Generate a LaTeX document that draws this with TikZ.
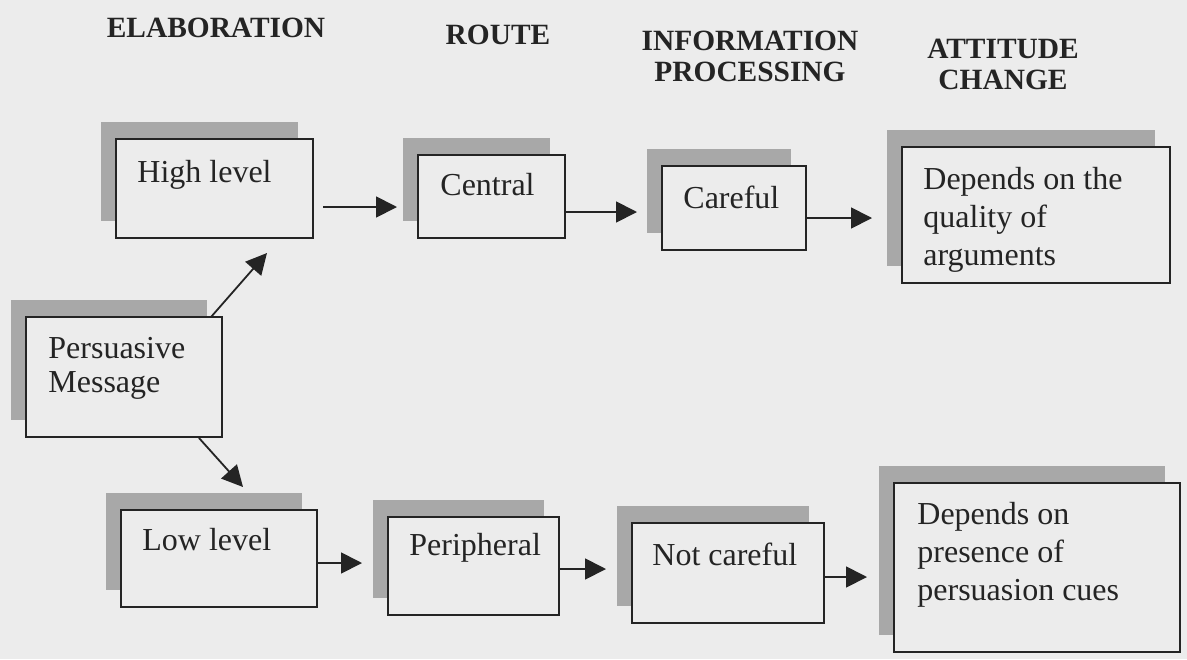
\documentclass[tikz,border=0pt]{standalone}
\usepackage{fontspec}
\setmainfont{Liberation Serif}
\usetikzlibrary{arrows.meta,shadows}
\definecolor{paper}{RGB}{236,236,236}
\definecolor{shade}{RGB}{168,168,168}
\definecolor{ink}{RGB}{36,36,36}
\begin{document}
\begin{tikzpicture}[x=0.5pt,y=-0.5pt,
  box/.style={draw=ink, line width=1pt, fill=paper, rectangle, inner sep=0pt,
    general shadow={shadow xshift=-7.5pt, shadow yshift=8.5pt, fill=shade}},
  lbl/.style={anchor=base west, inner sep=0pt, align=left, text=ink,
    font=\fontsize{16pt}{18.8pt}\selectfont},
  head/.style={anchor=base, inner sep=0pt, align=center, text=ink,
    font=\bfseries\fontsize{14.7pt}{15.2pt}\selectfont},
  arr/.style={draw=ink, line width=0.9pt, -{Triangle[length=10.5pt,width=10.5pt]}}]

% page
\fill[paper] (0,0) rectangle (1187,659);
\useasboundingbox (0,0) rectangle (1187,659);

% column headings (multi-line nodes are placed by their last baseline)
\node[head] (hElab)  at (216,37)  {ELABORATION};
\node[head] (hRoute) at (498,44)  {ROUTE};
\node[head] (hInfo)  at (750,81)  {INFORMATION\\PROCESSING};
\node[head] (hAtt)   at (1003,89) {ATTITUDE\\CHANGE};

% boxes
\node[box, minimum width=98.5pt, minimum height=49.5pt] (high)    at (214.5,188.5) {};
\node[box, minimum width=98pt,   minimum height=60pt]   (pers)    at (124,377)     {};
\node[box, minimum width=73.5pt, minimum height=41.5pt] (central) at (491.5,196.5) {};
\node[box, minimum width=72pt,   minimum height=42pt]   (careful) at (734,208)     {};
\node[box, minimum width=134pt,  minimum height=68pt]   (attA)    at (1036,215)    {};
\node[box, minimum width=98pt,   minimum height=48.5pt] (low)     at (219,558.5)   {};
\node[box, minimum width=85.5pt, minimum height=49pt]   (periph)  at (473.5,566)   {};
\node[box, minimum width=96pt,   minimum height=50pt]   (notc)    at (728,573)     {};
\node[box, minimum width=143pt,  minimum height=84.5pt] (attB)    at (1037,567.5)  {};

% box texts
\node[lbl] (tHigh)    at (137,182) {High level};
\node[lbl, font=\fontsize{16pt}{17pt}\selectfont] (tPers) at (48,392) {Persuasive\\Message};
\node[lbl] (tCentral) at (440,195) {Central};
\node[lbl] (tCareful) at (683,208) {Careful};
\node[lbl] (tAttA)    at (923,265) {Depends on the\\quality of\\arguments};
\node[lbl] (tLow)     at (142,550) {Low level};
\node[lbl] (tPeriph)  at (409,555) {Peripheral};
\node[lbl] (tNotc)    at (652,565) {Not careful};
\node[lbl] (tAttB)    at (917,600) {Depends on\\presence of\\persuasion cues};

% connectors
\draw[arr] ([shift={(-12,1)}]pers.north east) -- ([shift={(152,14)}]high.south west);
\draw[arr] ([shift={(-24,0)}]pers.south east) -- ([shift={(123,-22)}]low.north west);
\draw[arr] ([shift={(9,18.5)}]high.east)  -- ([shift={(-20,10.5)}]central.west);
\draw[arr] ([shift={(0,15.5)}]central.east) -- ([shift={(-24,4)}]careful.west);
\draw[arr] ([shift={(0,10)}]careful.east) -- ([shift={(-29,3)}]attA.west);
\draw[arr] ([shift={(0,4.5)}]low.east)    -- ([shift={(-25,-3)}]periph.west);
\draw[arr] ([shift={(0,3)}]periph.east)   -- ([shift={(-25,-4)}]notc.west);
\draw[arr] ([shift={(0,4)}]notc.east)     -- ([shift={(-26,9.5)}]attB.west);
\end{tikzpicture}
\end{document}
